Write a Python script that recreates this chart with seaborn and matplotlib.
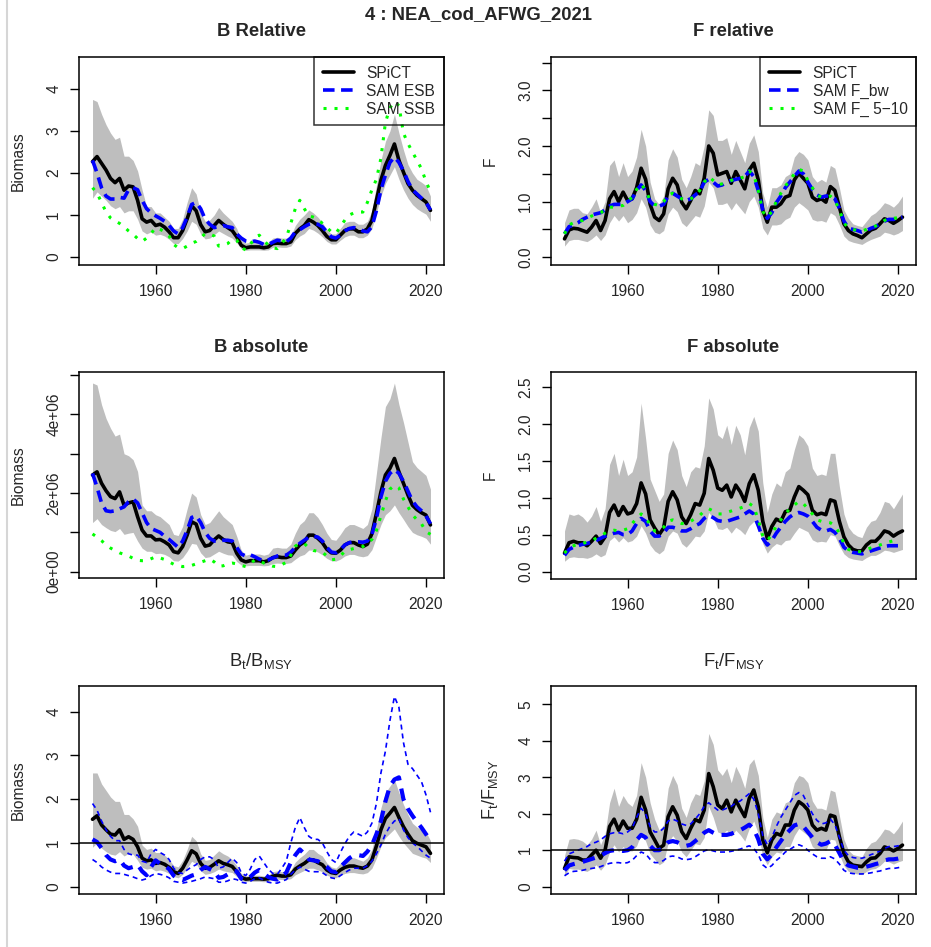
import numpy as np
import pandas as pd
import matplotlib
matplotlib.use("Agg")
import matplotlib.pyplot as plt
from matplotlib.lines import Line2D
import seaborn as sns

sns.set_style("ticks")
plt.rcParams['font.family'] = ['Liberation Sans', 'DejaVu Sans']
plt.rcParams['mathtext.fontset'] = 'custom'
plt.rcParams['mathtext.rm'] = 'Liberation Sans'
plt.rcParams['mathtext.it'] = 'Liberation Sans:italic'
plt.rcParams['mathtext.bf'] = 'Liberation Sans:bold'

YEARS = np.arange(1946, 2022)
YEARS_SAM_F = np.arange(1946, 2021)
UNIT = 1e6  # absolute biomass values below are in millions

# ---------------- B relative ----------------
b_rel_spict = [2.27, 2.39, 2.23, 2.07,
    1.87, 1.77, 1.87, 1.59, 1.69, 1.67, 1.35, 0.91, 0.83, 0.87,
    0.75, 0.78, 0.71, 0.60, 0.46, 0.46, 0.63, 0.91, 1.22, 1.10,
    0.77, 0.60, 0.63, 0.75, 0.87, 0.78, 0.70, 0.63, 0.48, 0.28,
    0.22, 0.24, 0.24, 0.24, 0.22, 0.24, 0.32, 0.33, 0.32, 0.32,
    0.36, 0.56, 0.67, 0.75, 0.89, 0.83, 0.75, 0.63, 0.49, 0.41,
    0.41, 0.52, 0.63, 0.67, 0.67, 0.60, 0.60, 0.67, 0.87, 1.35,
    1.83, 2.18, 2.42, 2.69, 2.30, 2.02, 1.75, 1.59, 1.47, 1.39,
    1.31, 1.11]
b_rel_hi = [3.75, 3.70, 3.40, 3.15,
    2.95, 2.80, 2.85, 2.40, 2.40, 2.30, 2.05, 1.60, 1.20, 1.20,
    1.05, 1.05, 0.95, 0.85, 0.68, 0.68, 0.90, 1.30, 1.65, 1.50,
    1.05, 0.85, 0.88, 1.00, 1.18, 1.05, 0.95, 0.85, 0.68, 0.40,
    0.33, 0.35, 0.35, 0.35, 0.33, 0.35, 0.45, 0.47, 0.45, 0.45,
    0.50, 0.75, 0.90, 1.00, 1.12, 1.05, 0.95, 0.82, 0.65, 0.55,
    0.55, 0.68, 0.82, 0.85, 0.85, 0.78, 0.78, 0.85, 1.10, 1.70,
    2.30, 2.75, 3.00, 3.40, 2.95, 2.55, 2.20, 2.00, 1.85, 1.78,
    1.70, 1.45]
b_rel_lo = [1.40, 1.55, 1.45, 1.35,
    1.22, 1.15, 1.20, 1.05, 1.10, 1.10, 0.90, 0.62, 0.55, 0.60,
    0.52, 0.54, 0.50, 0.42, 0.32, 0.32, 0.44, 0.62, 0.85, 0.78,
    0.55, 0.43, 0.45, 0.53, 0.62, 0.56, 0.50, 0.45, 0.34, 0.20,
    0.16, 0.17, 0.17, 0.17, 0.16, 0.17, 0.23, 0.24, 0.23, 0.23,
    0.26, 0.41, 0.50, 0.56, 0.68, 0.64, 0.57, 0.48, 0.37, 0.31,
    0.31, 0.40, 0.48, 0.52, 0.52, 0.46, 0.46, 0.52, 0.68, 1.05,
    1.45, 1.75, 1.95, 2.15, 1.85, 1.60, 1.40, 1.25, 1.15, 1.08,
    1.02, 0.85]
b_rel_esb = [2.30, 2.00, 1.65, 1.45,
    1.38, 1.38, 1.42, 1.40, 1.60, 1.65, 1.60, 1.35, 1.15, 1.05,
    0.98, 0.92, 0.85, 0.75, 0.62, 0.55, 0.70, 0.95, 1.25, 1.30,
    1.15, 0.90, 0.78, 0.70, 0.72, 0.75, 0.72, 0.70, 0.55, 0.45,
    0.38, 0.36, 0.38, 0.35, 0.30, 0.30, 0.35, 0.40, 0.38, 0.36,
    0.45, 0.60, 0.65, 0.72, 0.78, 0.80, 0.78, 0.72, 0.60, 0.48,
    0.45, 0.52, 0.62, 0.68, 0.70, 0.68, 0.62, 0.60, 0.72, 1.10,
    1.60, 1.95, 2.25, 2.38, 2.25, 2.05, 1.80, 1.60, 1.50, 1.40,
    1.30, 1.12]
b_rel_ssb = [1.65, 1.52, 1.30, 1.07,
    0.93, 0.86, 0.80, 0.72, 0.62, 0.54, 0.44, 0.37, 0.45, 0.56,
    0.70, 0.66, 0.60, 0.50, 0.30, 0.22, 0.20, 0.26, 0.33, 0.37,
    0.45, 0.56, 0.55, 0.50, 0.26, 0.28, 0.32, 0.42, 0.40, 0.22,
    0.17, 0.30, 0.45, 0.52, 0.40, 0.28, 0.22, 0.20, 0.33, 0.45,
    0.80, 1.15, 1.35, 1.15, 0.98, 0.95, 0.91, 0.80, 0.70, 0.60,
    0.56, 0.72, 0.88, 1.00, 1.05, 1.07, 1.07, 1.30, 1.60, 1.85,
    2.35, 3.20, 3.55, 3.70, 3.60, 2.95, 2.70, 2.50, 2.30, 2.10,
    1.80, 1.55]

# ---------------- F relative ----------------
f_rel_spict = [0.33, 0.49, 0.52, 0.51,
    0.48, 0.45, 0.54, 0.66, 0.48, 0.66, 1.05, 1.18, 1.00, 1.17,
    1.02, 1.05, 1.25, 1.60, 1.40, 0.95, 0.72, 0.66, 0.78, 1.23,
    1.42, 1.30, 0.99, 0.87, 1.02, 1.20, 1.14, 1.42, 2.00, 1.87,
    1.48, 1.51, 1.54, 1.33, 1.54, 1.39, 1.23, 1.57, 1.69, 1.39,
    0.84, 0.63, 0.90, 0.90, 0.96, 1.08, 1.11, 1.39, 1.51, 1.42,
    1.33, 1.08, 1.02, 1.05, 0.99, 1.27, 1.20, 0.90, 0.60, 0.48,
    0.42, 0.39, 0.35, 0.42, 0.49, 0.52, 0.60, 0.69, 0.66, 0.61,
    0.66, 0.72]
f_rel_hi = [0.62, 0.85, 0.88, 0.88,
    0.80, 0.78, 0.90, 1.05, 0.80, 1.00, 1.65, 1.75, 1.45, 1.70,
    1.45, 1.55, 1.80, 2.30, 2.00, 1.35, 1.05, 0.95, 1.10, 1.75,
    1.95, 1.80, 1.40, 1.25, 1.45, 1.70, 1.65, 2.00, 2.65, 2.55,
    2.10, 2.10, 2.15, 1.85, 2.10, 1.90, 1.70, 2.05, 2.20, 1.90,
    1.15, 0.90, 1.25, 1.25, 1.30, 1.45, 1.50, 1.80, 1.90, 1.85,
    1.75, 1.45, 1.35, 1.40, 1.35, 1.65, 1.60, 1.25, 0.85, 0.70,
    0.60, 0.57, 0.55, 0.65, 0.75, 0.80, 0.88, 0.98, 0.95, 0.90,
    0.98, 1.10]
f_rel_lo = [0.20, 0.30, 0.32, 0.32,
    0.30, 0.28, 0.33, 0.40, 0.30, 0.40, 0.62, 0.75, 0.65, 0.75,
    0.62, 0.68, 0.80, 1.05, 0.90, 0.58, 0.45, 0.42, 0.48, 0.78,
    0.90, 0.82, 0.62, 0.55, 0.65, 0.75, 0.72, 0.92, 1.35, 1.25,
    0.95, 0.95, 0.98, 0.85, 0.98, 0.88, 0.78, 1.00, 1.10, 0.90,
    0.52, 0.40, 0.58, 0.58, 0.60, 0.68, 0.72, 0.90, 0.98, 0.92,
    0.85, 0.68, 0.65, 0.66, 0.63, 0.80, 0.75, 0.58, 0.38, 0.30,
    0.27, 0.25, 0.23, 0.28, 0.32, 0.35, 0.38, 0.45, 0.43, 0.40,
    0.43, 0.48]
f_rel_bw = [0.42, 0.55, 0.58, 0.62,
    0.68, 0.72, 0.76, 0.78, 0.80, 0.85, 0.92, 0.95, 0.95, 0.95,
    1.00, 1.05, 1.20, 1.30, 1.20, 1.00, 0.92, 0.92, 0.95, 1.10,
    1.15, 1.10, 1.05, 1.02, 1.05, 1.12, 1.18, 1.35, 1.40, 1.35,
    1.28, 1.30, 1.35, 1.38, 1.40, 1.42, 1.45, 1.55, 1.45, 1.20,
    0.85, 0.70, 0.80, 0.98, 1.10, 1.25, 1.35, 1.45, 1.55, 1.50,
    1.35, 1.22, 1.12, 1.08, 1.10, 1.10, 1.05, 0.88, 0.65, 0.52,
    0.50, 0.48, 0.45, 0.48, 0.52, 0.55, 0.60, 0.65, 0.68, 0.68,
    0.70, 0.72]
f_rel_510 = [0.42, 0.58, 0.62, 0.65,
    0.66, 0.70, 0.74, 0.77, 0.80, 0.85, 0.90, 0.90, 0.92, 0.93,
    1.00, 1.08, 1.22, 1.32, 1.20, 1.02, 0.95, 0.93, 1.00, 1.12,
    1.15, 1.10, 1.05, 1.02, 1.05, 1.10, 1.20, 1.35, 1.45, 1.38,
    1.30, 1.32, 1.35, 1.38, 1.42, 1.42, 1.45, 1.55, 1.48, 1.20,
    0.82, 0.72, 0.82, 1.00, 1.15, 1.28, 1.38, 1.50, 1.58, 1.55,
    1.38, 1.25, 1.12, 1.08, 1.08, 1.10, 1.02, 0.85, 0.62, 0.52,
    0.50, 0.48, 0.47, 0.50, 0.53, 0.56, 0.60, 0.66, 0.70, 0.70,
    0.71, 0.74]

# ---------------- B absolute (millions) ----------------
b_abs_spict = [2.46, 2.54, 2.25, 2.06,
    1.91, 1.86, 2.03, 1.69, 1.75, 1.78, 1.40, 1.06, 0.91, 0.91,
    0.81, 0.82, 0.76, 0.68, 0.51, 0.48, 0.64, 0.93, 1.27, 1.21,
    0.85, 0.65, 0.68, 0.81, 0.91, 0.82, 0.76, 0.74, 0.47, 0.30,
    0.25, 0.28, 0.28, 0.28, 0.25, 0.28, 0.36, 0.38, 0.36, 0.36,
    0.40, 0.55, 0.68, 0.76, 0.93, 0.93, 0.85, 0.74, 0.57, 0.48,
    0.47, 0.55, 0.68, 0.74, 0.74, 0.68, 0.64, 0.70, 0.97, 1.48,
    2.03, 2.46, 2.63, 2.88, 2.54, 2.25, 1.95, 1.69, 1.58, 1.50,
    1.44, 1.19]
b_abs_hi = [4.80, 4.75, 4.25, 3.90,
    3.65, 3.45, 3.50, 3.00, 2.95, 2.85, 2.55, 1.70, 1.55, 1.55,
    1.45, 1.40, 1.30, 1.20, 0.95, 0.92, 1.15, 1.60, 2.00, 1.90,
    1.45, 1.20, 1.25, 1.40, 1.55, 1.40, 1.30, 1.20, 0.90, 0.55,
    0.42, 0.45, 0.45, 0.45, 0.42, 0.45, 0.60, 0.62, 0.60, 0.60,
    0.70, 0.98, 1.20, 1.30, 1.50, 1.50, 1.38, 1.20, 0.98, 0.82,
    0.80, 0.95, 1.12, 1.20, 1.20, 1.15, 1.10, 1.20, 1.60, 2.50,
    3.40, 4.20, 4.40, 4.80, 4.25, 3.80, 3.30, 2.80, 2.65, 2.55,
    2.45, 2.10]
b_abs_lo = [1.25, 1.35, 1.20, 1.12,
    1.05, 1.02, 1.10, 0.95, 0.98, 1.00, 0.78, 0.60, 0.52, 0.52,
    0.46, 0.47, 0.44, 0.38, 0.28, 0.27, 0.36, 0.52, 0.72, 0.70,
    0.48, 0.36, 0.38, 0.45, 0.52, 0.47, 0.43, 0.42, 0.26, 0.17,
    0.15, 0.16, 0.16, 0.16, 0.15, 0.16, 0.21, 0.22, 0.21, 0.21,
    0.23, 0.32, 0.40, 0.44, 0.55, 0.55, 0.50, 0.43, 0.34, 0.28,
    0.27, 0.32, 0.40, 0.44, 0.44, 0.40, 0.38, 0.41, 0.56, 0.88,
    1.20, 1.45, 1.55, 1.70, 1.50, 1.33, 1.15, 1.00, 0.94, 0.90,
    0.85, 0.70]
b_abs_esb = [2.50, 2.15, 1.75, 1.55,
    1.53, 1.55, 1.60, 1.65, 1.78, 1.85, 1.75, 1.50, 1.25, 1.10,
    1.05, 1.00, 0.90, 0.82, 0.72, 0.62, 0.78, 1.05, 1.38, 1.42,
    1.25, 1.00, 0.85, 0.78, 0.78, 0.80, 0.80, 0.78, 0.62, 0.45,
    0.40, 0.43, 0.38, 0.32, 0.28, 0.30, 0.35, 0.40, 0.42, 0.42,
    0.50, 0.62, 0.72, 0.80, 0.88, 0.90, 0.88, 0.78, 0.62, 0.50,
    0.48, 0.56, 0.68, 0.74, 0.76, 0.76, 0.75, 0.78, 0.95, 1.35,
    1.90, 2.30, 2.50, 2.60, 2.50, 2.30, 2.05, 1.80, 1.65, 1.55,
    1.42, 1.22]
b_abs_ssb = [0.96, 0.88, 0.79, 0.68,
    0.60, 0.54, 0.48, 0.44, 0.40, 0.34, 0.29, 0.28, 0.28, 0.33,
    0.38, 0.35, 0.31, 0.25, 0.19, 0.16, 0.13, 0.14, 0.16, 0.20,
    0.24, 0.28, 0.32, 0.25, 0.14, 0.15, 0.20, 0.22, 0.20, 0.16,
    0.13, 0.20, 0.30, 0.28, 0.22, 0.18, 0.14, 0.13, 0.18, 0.24,
    0.42, 0.65, 0.72, 0.72, 0.60, 0.54, 0.52, 0.50, 0.40, 0.30,
    0.32, 0.40, 0.52, 0.56, 0.59, 0.61, 0.64, 0.72, 0.82, 1.05,
    1.42, 1.80, 2.10, 2.20, 2.13, 1.85, 1.65, 1.45, 1.32, 1.22,
    1.02, 0.95]

# ---------------- F absolute ----------------
f_abs_spict = [0.25, 0.39, 0.41, 0.39,
    0.39, 0.35, 0.41, 0.48, 0.38, 0.47, 0.80, 0.90, 0.76, 0.88,
    0.78, 0.80, 0.92, 1.20, 1.05, 0.70, 0.59, 0.50, 0.59, 0.95,
    1.08, 0.97, 0.74, 0.65, 0.77, 0.92, 0.90, 1.06, 1.53, 1.37,
    1.13, 1.10, 1.17, 1.01, 1.17, 1.08, 0.95, 1.19, 1.31, 1.10,
    0.68, 0.45, 0.61, 0.71, 0.68, 0.81, 0.83, 1.01, 1.15, 1.10,
    1.04, 0.83, 0.77, 0.79, 0.77, 0.97, 0.95, 0.68, 0.47, 0.36,
    0.30, 0.28, 0.28, 0.36, 0.41, 0.41, 0.47, 0.55, 0.53, 0.48,
    0.52, 0.55]
f_abs_hi = [0.55, 0.78, 0.76, 0.78,
    0.74, 0.67, 0.75, 0.88, 0.68, 0.85, 1.45, 1.60, 1.30, 1.52,
    1.30, 1.35, 1.55, 2.28, 1.80, 1.25, 1.10, 0.95, 1.05, 1.60,
    1.78, 1.65, 1.30, 1.15, 1.35, 1.42, 1.40, 1.70, 2.35, 2.20,
    1.85, 1.80, 1.98, 1.72, 1.98, 1.85, 1.58, 1.95, 2.10, 1.90,
    1.20, 0.80, 1.05, 1.20, 1.15, 1.35, 1.40, 1.65, 1.85, 1.80,
    1.70, 1.40, 1.30, 1.32, 1.30, 1.60, 1.60, 1.15, 0.78, 0.60,
    0.52, 0.48, 0.46, 0.60, 0.68, 0.70, 0.80, 0.95, 0.93, 0.85,
    0.95, 1.05]
f_abs_lo = [0.14, 0.19, 0.20, 0.19,
    0.19, 0.18, 0.20, 0.24, 0.20, 0.23, 0.42, 0.47, 0.40, 0.46,
    0.40, 0.42, 0.48, 0.62, 0.52, 0.36, 0.28, 0.24, 0.29, 0.48,
    0.55, 0.52, 0.38, 0.33, 0.40, 0.48, 0.47, 0.55, 0.80, 0.72,
    0.58, 0.57, 0.60, 0.52, 0.60, 0.56, 0.50, 0.62, 0.68, 0.58,
    0.38, 0.25, 0.33, 0.38, 0.36, 0.42, 0.43, 0.52, 0.60, 0.57,
    0.54, 0.43, 0.40, 0.41, 0.40, 0.50, 0.48, 0.35, 0.24, 0.19,
    0.17, 0.16, 0.15, 0.19, 0.22, 0.22, 0.25, 0.29, 0.28, 0.26,
    0.28, 0.30]
f_abs_bw = [0.22, 0.30, 0.33, 0.35,
    0.37, 0.38, 0.40, 0.42, 0.45, 0.48, 0.50, 0.52, 0.53, 0.50,
    0.50, 0.55, 0.65, 0.72, 0.68, 0.55, 0.48, 0.48, 0.52, 0.60,
    0.60, 0.58, 0.55, 0.55, 0.58, 0.62, 0.65, 0.72, 0.76, 0.73,
    0.69, 0.68, 0.68, 0.70, 0.72, 0.74, 0.78, 0.82, 0.78, 0.62,
    0.45, 0.36, 0.42, 0.52, 0.60, 0.68, 0.74, 0.78, 0.80, 0.78,
    0.75, 0.68, 0.60, 0.56, 0.55, 0.57, 0.53, 0.45, 0.33, 0.28,
    0.26, 0.25, 0.24, 0.26, 0.28, 0.30, 0.32, 0.34, 0.35, 0.35,
    0.35]
f_abs_510 = [0.25, 0.32, 0.35, 0.37,
    0.38, 0.40, 0.42, 0.45, 0.48, 0.52, 0.55, 0.56, 0.55, 0.56,
    0.58, 0.65, 0.72, 0.78, 0.74, 0.62, 0.55, 0.55, 0.60, 0.68,
    0.70, 0.68, 0.65, 0.65, 0.68, 0.72, 0.76, 0.82, 0.85, 0.82,
    0.78, 0.78, 0.80, 0.82, 0.84, 0.86, 0.88, 0.92, 0.88, 0.70,
    0.48, 0.42, 0.50, 0.62, 0.70, 0.78, 0.85, 0.90, 0.95, 0.92,
    0.85, 0.78, 0.70, 0.68, 0.67, 0.66, 0.62, 0.52, 0.38, 0.30,
    0.28, 0.27, 0.27, 0.30, 0.32, 0.34, 0.36, 0.38, 0.40, 0.42,
    0.44]

# ---------------- B/Bmsy ----------------
bb_spict = [1.54, 1.62, 1.41, 1.30,
    1.20, 1.18, 1.30, 1.08, 1.14, 1.08, 0.91, 0.65, 0.59, 0.61,
    0.53, 0.55, 0.51, 0.44, 0.34, 0.30, 0.42, 0.61, 0.82, 0.75,
    0.53, 0.42, 0.44, 0.51, 0.59, 0.53, 0.50, 0.46, 0.34, 0.21,
    0.17, 0.18, 0.18, 0.18, 0.17, 0.18, 0.24, 0.26, 0.24, 0.24,
    0.27, 0.40, 0.47, 0.53, 0.61, 0.61, 0.55, 0.50, 0.38, 0.32,
    0.30, 0.38, 0.44, 0.47, 0.47, 0.44, 0.42, 0.47, 0.61, 0.93,
    1.30, 1.56, 1.68, 1.81, 1.58, 1.37, 1.20, 1.05, 0.99, 0.95,
    0.91, 0.76]
bb_hi = [2.60, 2.60, 2.35, 2.20,
    2.05, 1.95, 1.95, 1.65, 1.65, 1.55, 1.38, 0.95, 0.85, 0.88,
    0.78, 0.78, 0.72, 0.62, 0.48, 0.45, 0.60, 0.85, 1.15, 1.05,
    0.75, 0.60, 0.62, 0.72, 0.82, 0.75, 0.70, 0.62, 0.48, 0.30,
    0.24, 0.26, 0.26, 0.26, 0.24, 0.26, 0.34, 0.36, 0.34, 0.34,
    0.38, 0.56, 0.66, 0.74, 0.85, 0.85, 0.76, 0.70, 0.54, 0.45,
    0.42, 0.53, 0.62, 0.65, 0.66, 0.62, 0.58, 0.66, 0.85, 1.30,
    1.80, 2.15, 2.30, 2.45, 2.15, 1.88, 1.65, 1.45, 1.36, 1.30,
    1.25, 1.05]
bb_lo = [0.90, 1.00, 0.88, 0.80,
    0.74, 0.72, 0.80, 0.70, 0.76, 0.74, 0.60, 0.44, 0.40, 0.42,
    0.36, 0.38, 0.35, 0.30, 0.23, 0.20, 0.28, 0.42, 0.58, 0.52,
    0.36, 0.28, 0.30, 0.34, 0.40, 0.36, 0.34, 0.32, 0.23, 0.14,
    0.11, 0.12, 0.12, 0.12, 0.11, 0.12, 0.16, 0.17, 0.16, 0.16,
    0.18, 0.27, 0.32, 0.37, 0.42, 0.42, 0.38, 0.34, 0.26, 0.22,
    0.20, 0.26, 0.30, 0.32, 0.32, 0.30, 0.29, 0.32, 0.42, 0.65,
    0.92, 1.12, 1.22, 1.32, 1.15, 1.00, 0.88, 0.76, 0.72, 0.68,
    0.65, 0.55]
bb_sam = [1.08, 1.02, 0.88, 0.72,
    0.62, 0.58, 0.62, 0.48, 0.42, 0.45, 0.50, 0.35, 0.26, 0.45,
    0.60, 0.52, 0.48, 0.40, 0.25, 0.18, 0.15, 0.20, 0.25, 0.28,
    0.38, 0.45, 0.40, 0.35, 0.20, 0.22, 0.28, 0.36, 0.35, 0.18,
    0.14, 0.22, 0.32, 0.38, 0.30, 0.22, 0.18, 0.16, 0.24, 0.32,
    0.55, 0.72, 0.85, 0.75, 0.62, 0.60, 0.58, 0.52, 0.45, 0.35,
    0.33, 0.45, 0.55, 0.65, 0.72, 0.72, 0.70, 0.80, 0.95, 1.20,
    1.50, 1.95, 2.30, 2.45, 2.50, 2.00, 1.78, 1.62, 1.48, 1.35,
    1.20, 1.05]
bb_sam_lo = [0.62, 0.55, 0.45, 0.38,
    0.33, 0.30, 0.30, 0.28, 0.25, 0.22, 0.18, 0.15, 0.18, 0.25,
    0.30, 0.28, 0.25, 0.20, 0.12, 0.10, 0.08, 0.10, 0.12, 0.15,
    0.18, 0.22, 0.20, 0.18, 0.10, 0.10, 0.13, 0.18, 0.16, 0.10,
    0.08, 0.12, 0.18, 0.20, 0.15, 0.10, 0.08, 0.08, 0.12, 0.16,
    0.28, 0.38, 0.45, 0.40, 0.35, 0.34, 0.34, 0.32, 0.25, 0.20,
    0.18, 0.25, 0.32, 0.38, 0.42, 0.42, 0.42, 0.48, 0.58, 0.75,
    0.95, 1.20, 1.38, 1.50, 1.55, 1.30, 1.12, 1.00, 0.92, 0.82,
    0.72, 0.65]
bb_sam_hi = [1.90, 1.75, 1.50, 1.30,
    1.15, 1.05, 1.05, 0.85, 0.75, 0.72, 0.72, 0.58, 0.55, 0.75,
    0.85, 0.78, 0.72, 0.62, 0.42, 0.32, 0.30, 0.38, 0.45, 0.50,
    0.62, 0.68, 0.68, 0.62, 0.42, 0.45, 0.55, 0.65, 0.55, 0.32,
    0.25, 0.40, 0.62, 0.70, 0.55, 0.40, 0.30, 0.28, 0.42, 0.58,
    1.00, 1.35, 1.58, 1.35, 1.15, 1.08, 1.08, 1.00, 0.80, 0.62,
    0.55, 0.78, 0.98, 1.15, 1.25, 1.20, 1.15, 1.25, 1.45, 1.90,
    2.60, 3.10, 3.80, 4.35, 4.10, 3.30, 2.80, 2.70, 2.55, 2.40,
    2.10, 1.70]

# ---------------- F/Fmsy ----------------
ff_spict = [0.50, 0.82, 0.80, 0.79,
    0.73, 0.73, 0.87, 1.00, 0.78, 1.00, 1.65, 1.85, 1.55, 1.80,
    1.60, 1.60, 1.85, 2.45, 2.10, 1.50, 1.28, 1.05, 1.14, 1.92,
    2.19, 1.96, 1.51, 1.32, 1.60, 1.84, 1.78, 2.10, 3.10, 2.74,
    2.24, 2.14, 2.37, 2.05, 2.37, 2.14, 1.92, 2.42, 2.65, 2.19,
    1.28, 0.93, 1.28, 1.46, 1.41, 1.69, 1.69, 2.10, 2.33, 2.24,
    2.10, 1.69, 1.55, 1.60, 1.55, 1.96, 1.92, 1.37, 0.91, 0.68,
    0.59, 0.57, 0.55, 0.68, 0.78, 0.79, 0.91, 1.09, 1.05, 0.98,
    1.05, 1.14]
ff_hi = [0.85, 1.30, 1.32, 1.30,
    1.25, 1.15, 1.30, 1.55, 1.15, 1.45, 2.30, 2.70, 2.20, 2.50,
    2.30, 2.20, 2.50, 3.40, 3.00, 2.30, 1.85, 1.55, 1.70, 2.70,
    3.05, 2.80, 2.15, 1.90, 2.30, 2.55, 2.50, 2.90, 4.20, 3.90,
    3.20, 3.05, 3.25, 2.85, 3.30, 3.05, 2.70, 3.35, 3.50, 3.05,
    1.90, 1.35, 1.85, 2.05, 2.00, 2.30, 2.35, 2.85, 3.05, 3.00,
    2.85, 2.35, 2.15, 2.15, 2.10, 2.65, 2.60, 1.95, 1.30, 1.00,
    0.88, 0.85, 0.82, 1.05, 1.20, 1.25, 1.40, 1.58, 1.55, 1.45,
    1.60, 1.80]
ff_lo = [0.30, 0.50, 0.48, 0.48,
    0.45, 0.42, 0.50, 0.60, 0.45, 0.60, 0.95, 1.15, 0.95, 1.10,
    0.98, 0.98, 1.12, 1.45, 1.25, 0.90, 0.75, 0.60, 0.68, 1.20,
    1.40, 1.25, 0.95, 0.82, 1.00, 1.18, 1.15, 1.35, 2.20, 1.90,
    1.50, 1.45, 1.55, 1.38, 1.55, 1.42, 1.25, 1.60, 1.80, 1.45,
    0.82, 0.60, 0.82, 0.95, 0.92, 1.10, 1.10, 1.40, 1.60, 1.50,
    1.40, 1.10, 1.00, 1.05, 1.00, 1.30, 1.28, 0.88, 0.58, 0.42,
    0.37, 0.35, 0.33, 0.42, 0.48, 0.50, 0.58, 0.70, 0.68, 0.62,
    0.68, 0.72]
ff_sam = [0.45, 0.58, 0.62, 0.65,
    0.68, 0.72, 0.76, 0.80, 0.85, 0.92, 0.98, 1.00, 1.00, 0.98,
    1.00, 1.08, 1.28, 1.42, 1.35, 1.12, 1.00, 1.00, 1.08, 1.22,
    1.25, 1.22, 1.15, 1.12, 1.15, 1.25, 1.35, 1.48, 1.55, 1.48,
    1.42, 1.42, 1.42, 1.45, 1.50, 1.55, 1.62, 1.70, 1.58, 1.30,
    0.90, 0.75, 0.88, 1.08, 1.25, 1.42, 1.55, 1.68, 1.72, 1.65,
    1.50, 1.35, 1.22, 1.15, 1.18, 1.25, 1.15, 0.92, 0.68, 0.58,
    0.55, 0.52, 0.52, 0.55, 0.58, 0.62, 0.65, 0.72, 0.75, 0.75,
    0.77, 0.80]
ff_sam_hi = [0.70, 0.90, 0.95, 1.00,
    1.05, 1.10, 1.18, 1.22, 1.28, 1.38, 1.45, 1.48, 1.48, 1.45,
    1.50, 1.60, 1.90, 2.15, 2.00, 1.65, 1.50, 1.50, 1.60, 1.80,
    1.85, 1.80, 1.72, 1.68, 1.72, 1.85, 2.00, 2.20, 2.30, 2.20,
    2.10, 2.10, 2.15, 2.20, 2.30, 2.35, 2.45, 2.55, 2.40, 2.00,
    1.40, 1.15, 1.35, 1.65, 1.90, 2.10, 2.30, 2.50, 2.58, 2.50,
    2.25, 2.00, 1.82, 1.72, 1.75, 1.85, 1.70, 1.35, 1.00, 0.85,
    0.80, 0.78, 0.78, 0.82, 0.88, 0.92, 0.98, 1.05, 1.10, 1.10,
    1.12, 1.15]
ff_sam_lo = [0.30, 0.38, 0.42, 0.43,
    0.45, 0.48, 0.50, 0.52, 0.55, 0.60, 0.64, 0.66, 0.66, 0.64,
    0.66, 0.72, 0.85, 0.95, 0.90, 0.75, 0.66, 0.66, 0.72, 0.82,
    0.84, 0.82, 0.76, 0.74, 0.76, 0.82, 0.90, 0.98, 1.02, 0.98,
    0.95, 0.95, 0.95, 0.97, 1.00, 1.03, 1.08, 1.12, 1.05, 0.88,
    0.60, 0.50, 0.58, 0.72, 0.82, 0.95, 1.02, 1.10, 1.15, 1.10,
    1.00, 0.90, 0.82, 0.78, 0.78, 0.82, 0.76, 0.62, 0.45, 0.38,
    0.36, 0.35, 0.35, 0.36, 0.38, 0.41, 0.43, 0.47, 0.50, 0.50,
    0.52, 0.55]

# ---------------- layout ----------------
W, H = 931, 947
fig = plt.figure(figsize=(W / 100, H / 100), dpi=100)
fig.patch.set_facecolor("white")

BAND = "#BEBEBE"
BLUE = "#0000FF"
GREEN = "#00FF00"
FS = 11.2
TFS = 13.3


def make_ax(x0, y0, x1, y1):
    return fig.add_axes([x0 / W, 1 - y1 / H, (x1 - x0) / W, (y1 - y0) / H])


def line(ax, x, y, **kw):
    sns.lineplot(x=x, y=y, ax=ax, errorbar=None, sort=False, **kw)


def style_ax(ax, ylim, yticks, yticklabels, ylabel, title, bold=True, ylabel_fs=FS):
    ax.set_xlim(1943, 2024)
    ax.set_ylim(*ylim)
    ax.set_xticks([1960, 1980, 2000, 2020])
    ax.set_xticklabels(["1960", "1980", "2000", "2020"], fontsize=FS)
    ax.set_yticks(yticks)
    ax.set_yticklabels(yticklabels, fontsize=FS, rotation=90, va="center")
    ax.tick_params(axis="both", direction="out", length=6.3, width=1.0, color="black")
    ax.tick_params(axis="x", pad=7.5)
    ax.tick_params(axis="y", pad=6.5)
    for s in ax.spines.values():
        s.set_visible(True)
        s.set_linewidth(1.1)
        s.set_color("black")
    ax.set_xlabel("")
    ax.set_ylabel(ylabel, fontsize=ylabel_fs, va="center")
    ax.yaxis.set_label_coords(-61 / 365, 0.5)
    ax.text(0.5, 1 + 25 / 208, title, transform=ax.transAxes, ha="center",
            va="center", fontsize=TFS, fontweight="bold" if bold else "normal")


def add_legend(ax, labels):
    handles = [Line2D([], [], color="black", lw=2.6),
               Line2D([], [], color=BLUE, lw=2.6, linestyle=(0, (3.2, 1.8))),
               Line2D([], [], color=GREEN, lw=2.2, linestyle=(0, (1, 2.6)))]
    leg = ax.legend(handles, labels, loc="upper right", borderaxespad=0,
                    fontsize=FS, frameon=True, fancybox=False, facecolor="none",
                    edgecolor="black", framealpha=None, handlelength=2.0,
                    handletextpad=0.8, labelspacing=0.2, borderpad=0.55)
    leg.get_frame().set_linewidth(1.1)


# Panel 1: B Relative
ax1 = make_ax(79, 57, 444, 265)
ax1.fill_between(YEARS, b_rel_lo, b_rel_hi, color=BAND, linewidth=0)
line(ax1, YEARS, b_rel_spict, color="black", linewidth=2.6)
line(ax1, YEARS, b_rel_esb, color=BLUE, linewidth=2.6, linestyle=(0, (3.2, 1.8)))
line(ax1, YEARS, b_rel_ssb, color=GREEN, linewidth=2.2, linestyle=(0, (1, 2.6)))
style_ax(ax1, (-0.19, 4.76), [0, 1, 2, 3, 4], ["0", "1", "2", "3", "4"],
         "Biomass", "B Relative")
add_legend(ax1, ["SPiCT", "SAM ESB", "SAM SSB"])

# Panel 2: F relative
ax2 = make_ax(551, 57, 916, 265)
ax2.fill_between(YEARS, f_rel_lo, f_rel_hi, color=BAND, linewidth=0)
line(ax2, YEARS, f_rel_spict, color="black", linewidth=2.6)
line(ax2, YEARS, f_rel_bw, color=BLUE, linewidth=2.6, linestyle=(0, (3.2, 1.8)))
line(ax2, YEARS, f_rel_510, color=GREEN, linewidth=2.2, linestyle=(0, (1, 2.6)))
style_ax(ax2, (-0.14, 3.6), [0, 0.5, 1, 1.5, 2, 2.5, 3, 3.5],
         ["0.0", "", "1.0", "", "2.0", "", "3.0", ""], "F", "F relative")
add_legend(ax2, ["SPiCT", "SAM F_bw", "SAM F_ 5\u221210"])

# Panel 3: B absolute
ax3 = make_ax(79, 372, 444, 578)
ax3.fill_between(YEARS, np.array(b_abs_lo) * UNIT, np.array(b_abs_hi) * UNIT,
                 color=BAND, linewidth=0)
line(ax3, YEARS, np.array(b_abs_spict) * UNIT, color="black", linewidth=2.6)
line(ax3, YEARS, np.array(b_abs_esb) * UNIT, color=BLUE, linewidth=2.6,
     linestyle=(0, (3.2, 1.8)))
line(ax3, YEARS, np.array(b_abs_ssb) * UNIT, color=GREEN, linewidth=2.2,
     linestyle=(0, (1, 2.6)))
style_ax(ax3, (-0.16e6, 5.08e6), [0, 1e6, 2e6, 3e6, 4e6, 5e6],
         ["0e+00", "", "2e+06", "", "4e+06", ""], "Biomass", "B absolute")

# Panel 4: F absolute
ax4 = make_ax(551, 372, 916, 579)
ax4.fill_between(YEARS, f_abs_lo, f_abs_hi, color=BAND, linewidth=0)
line(ax4, YEARS, f_abs_spict, color="black", linewidth=2.6)
line(ax4, YEARS_SAM_F, f_abs_bw, color=BLUE, linewidth=2.6, linestyle=(0, (3.2, 1.8)))
line(ax4, YEARS_SAM_F, f_abs_510, color=GREEN, linewidth=2.2, linestyle=(0, (1, 2.6)))
style_ax(ax4, (-0.1, 2.70), [0, 0.5, 1, 1.5, 2, 2.5],
         ["0.0", "0.5", "1.0", "1.5", "2.0", "2.5"], "F", "F absolute")

# Panel 5: B/Bmsy
ax5 = make_ax(79, 686, 444, 894)
ax5.fill_between(YEARS, bb_lo, bb_hi, color=BAND, linewidth=0)
line(ax5, YEARS, bb_spict, color="black", linewidth=2.6)
line(ax5, YEARS, bb_sam, color=BLUE, linewidth=3.0, linestyle=(0, (3.0, 2.0)))
line(ax5, YEARS, bb_sam_lo, color=BLUE, linewidth=1.2, linestyle=(0, (3.0, 2.4)))
line(ax5, YEARS, bb_sam_hi, color=BLUE, linewidth=1.2, linestyle=(0, (3.0, 2.4)))
ax5.axhline(1, color="black", linewidth=1.1)
style_ax(ax5, (-0.17, 4.59), [0, 1, 2, 3, 4], ["0", "1", "2", "3", "4"],
         "Biomass", r"$\mathrm{B_t/B_{MSY}}$", bold=False)

# Panel 6: F/Fmsy
ax6 = make_ax(551, 686, 916, 894)
ax6.fill_between(YEARS, ff_lo, ff_hi, color=BAND, linewidth=0)
line(ax6, YEARS, ff_spict, color="black", linewidth=2.6)
line(ax6, YEARS, ff_sam, color=BLUE, linewidth=3.0, linestyle=(0, (3.0, 2.0)))
line(ax6, YEARS, ff_sam_lo, color=BLUE, linewidth=1.2, linestyle=(0, (3.0, 2.4)))
line(ax6, YEARS, ff_sam_hi, color=BLUE, linewidth=1.2, linestyle=(0, (3.0, 2.4)))
ax6.axhline(1, color="black", linewidth=1.1)
style_ax(ax6, (-0.2, 5.5), [0, 1, 2, 3, 4, 5], ["0", "1", "2", "3", "4", "5"],
         r"$\mathrm{F_t/F_{MSY}}$", r"$\mathrm{F_t/F_{MSY}}$", bold=False,
         ylabel_fs=13)

fig.text(479 / W, 1 - 15 / H, "4 : NEA_cod_AFWG_2021", ha="center", va="center",
         fontsize=TFS, fontweight="bold")
fig.add_artist(Line2D([7 / W, 7 / W], [0, 1], transform=fig.transFigure,
                      color="#D6D6D6", linewidth=1.5))

fig.savefig("out.png", dpi=100, facecolor="white")
